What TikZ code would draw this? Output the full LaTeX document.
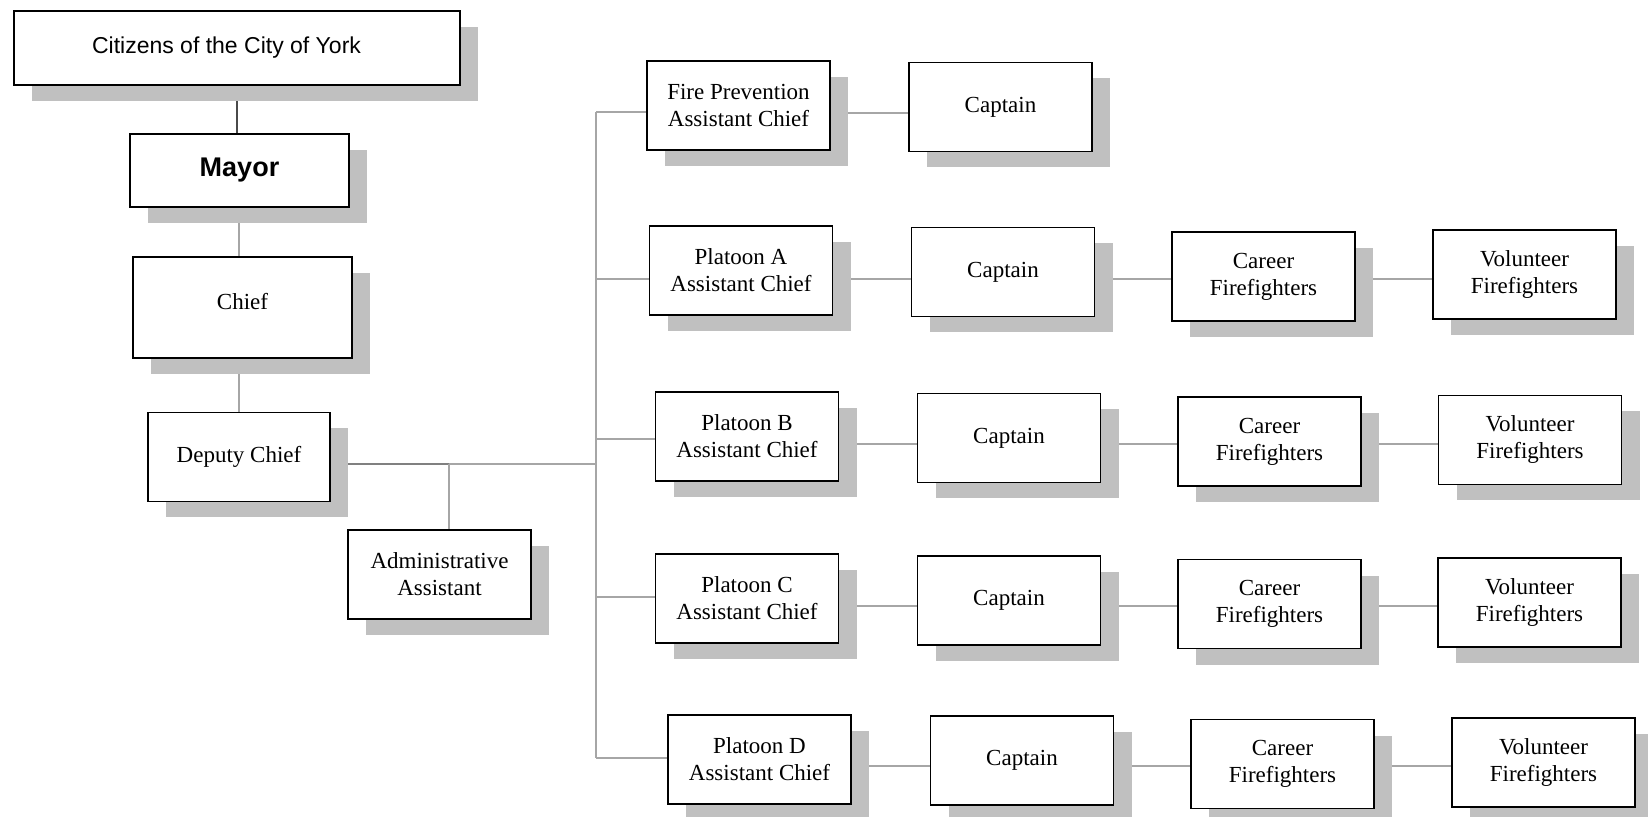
\documentclass[tikz,border=0pt]{standalone}
\usepackage{fontspec}
\setmainfont{Liberation Serif}
\newfontfamily\arialfont{Liberation Sans}
\usetikzlibrary{shadows}
\definecolor{shadowgray}{HTML}{C0C0C0}
\definecolor{linkgray}{HTML}{A6A6A6}
\definecolor{darklink}{HTML}{4A4A4A}
\pgfdeclarelayer{links}
\pgfsetlayers{links,main}
\tikzset{
  orgbox/.style={draw=black, line width=0.8pt, fill=white,
    minimum width=91.5pt, minimum height=44.5pt, inner sep=0pt,
    align=center, font=\fontsize{11.5}{13.5}\selectfont,
    drop shadow={shadow xshift=9pt, shadow yshift=-8pt, fill=shadowgray, opacity=1}},
  link/.style={draw=linkgray, line width=0.6pt},
}
\begin{document}
\begin{tikzpicture}[x=0.5pt, y=-0.5pt]
\useasboundingbox (0,0) rectangle (1648,817);

% top of the chain of command
\node[orgbox, minimum width=223pt, minimum height=37pt, font=\arialfont\fontsize{11.5}{13.5}\selectfont]
  (cit) at (237,48) {Citizens of the City of York\hspace*{10.5pt}};
\node[orgbox, minimum width=109.5pt, minimum height=36.5pt, font=\arialfont\bfseries\fontsize{13.5}{16}\selectfont]
  (mayor) at (239.5,170.5) {Mayor};
\node[orgbox, minimum width=109.5pt, minimum height=50.5pt] (chief) at (242.5,307.5) {Chief\rule[-6pt]{0pt}{6pt}};
\node[orgbox, minimum width=91pt] (dep) at (239,457) {Deputy Chief};
\node[orgbox] (admin) at (439.5,574.5) {Administrative\\Assistant};

% assistant chiefs
\node[orgbox] (fp) at (738.5,105.5) {Fire Prevention\\Assistant Chief};
\node[orgbox] (pa) at (741,270.5) {Platoon A\\Assistant Chief};
\node[orgbox] (pb) at (747,436.5) {Platoon B\\Assistant Chief};
\node[orgbox] (pc) at (747,598.5) {Platoon C\\Assistant Chief};
\node[orgbox] (pd) at (759.5,759.5) {Platoon D\\Assistant Chief};

% captains
\node[orgbox] (cap0) at (1000.5,107) {Captain};
\node[orgbox] (capa) at (1003,272) {Captain};
\node[orgbox] (capb) at (1009,438) {Captain};
\node[orgbox] (capc) at (1009,600.5) {Captain};
\node[orgbox] (capd) at (1022,760.5) {Captain};

% career firefighters
\node[orgbox] (cara) at (1263.5,276.5) {Career\\Firefighters};
\node[orgbox] (carb) at (1269.5,441.5) {Career\\Firefighters};
\node[orgbox] (carc) at (1269.5,604) {Career\\Firefighters};
\node[orgbox] (card) at (1282.5,764) {Career\\Firefighters};

% volunteer firefighters
\node[orgbox] (vola) at (1524.5,274.5) {Volunteer\\Firefighters};
\node[orgbox] (volb) at (1530,440) {Volunteer\\Firefighters};
\node[orgbox] (volc) at (1529.5,602.5) {Volunteer\\Firefighters};
\node[orgbox] (vold) at (1543.5,762.5) {Volunteer\\Firefighters};

% helper coordinates for the connector lines
\coordinate (bus) at (596,112);
\coordinate (busend) at (596,758);
\coordinate (depline) at (0,464);
\coordinate (adminjoin) at (449,464);
\coordinate (b0) at (0,112);
\coordinate (ba) at (0,279);
\coordinate (bb) at (0,439);
\coordinate (bc) at (0,597);
\coordinate (bd) at (0,758);
\coordinate (r0) at (0,113);
\coordinate (ra) at (0,279);
\coordinate (rb) at (0,444);
\coordinate (rc) at (0,606);
\coordinate (rd) at (0,766);

\begin{pgfonlayer}{links}
  \draw[link, draw=darklink] (cit.south) -- (cit.south |- mayor.north);
  \draw[link] (mayor.south -| dep.north) -- (chief.north -| dep.north);
  \draw[link] (chief.south -| dep.north) -- (dep.north);
  \draw[link, draw=gray] (dep.east |- depline) -- (adminjoin);
  \draw[link] (adminjoin) -- (bus |- depline);
  \draw[link] (adminjoin) -- (adminjoin |- admin.north);
  \draw[link] (bus) -- (busend);
  % branches to the assistant chiefs
  \draw[link] (bus |- b0) -- (fp.west |- b0);
  \draw[link] (bus |- ba) -- (pa.west |- ba);
  \draw[link] (bus |- bb) -- (pb.west |- bb);
  \draw[link] (bus |- bc) -- (pc.west |- bc);
  \draw[link] (bus |- bd) -- (pd.west |- bd);
  % rows
  \draw[link] (fp.east |- r0) -- (cap0.west |- r0);
  \draw[link] (pa.east |- ra) -- (capa.west |- ra);
  \draw[link] (capa.east |- ra) -- (cara.west |- ra);
  \draw[link] (cara.east |- ra) -- (vola.west |- ra);
  \draw[link] (pb.east |- rb) -- (capb.west |- rb);
  \draw[link] (capb.east |- rb) -- (carb.west |- rb);
  \draw[link] (carb.east |- rb) -- (volb.west |- rb);
  \draw[link] (pc.east |- rc) -- (capc.west |- rc);
  \draw[link] (capc.east |- rc) -- (carc.west |- rc);
  \draw[link] (carc.east |- rc) -- (volc.west |- rc);
  \draw[link] (pd.east |- rd) -- (capd.west |- rd);
  \draw[link] (capd.east |- rd) -- (card.west |- rd);
  \draw[link] (card.east |- rd) -- (vold.west |- rd);
\end{pgfonlayer}
\end{tikzpicture}
\end{document}
